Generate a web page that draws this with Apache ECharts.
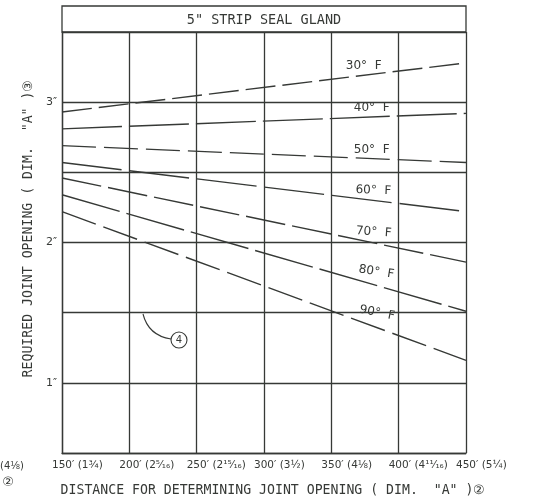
<!DOCTYPE html>
<html>
<head>
<meta charset="utf-8">
<script src="https://cdn.jsdelivr.net/npm/echarts@6/dist/echarts.min.js"></script>
<style>html,body{margin:0;padding:0;background:#fff;}#c{width:541px;height:503px;}</style>
</head>
<body>
<div id="c"></div>
<script>
// Distance (ft) at the two ends of each temperature line
const distances = [150, 450];
const xTickLabels = {150:"150\u2032 (1\u00BE)",200:"200\u2032 (2\u2075\u2044\u2081\u2086)",250:"250\u2032 (2\u00B9\u2075\u2044\u2081\u2086)",300:"300\u2032 (3\u00BD)",350:"350\u2032 (4\u215B)",400:"400\u2032 (4\u00B9\u00B9\u2044\u2081\u2086)",450:"450\u2032 (5\u00BC)"};
const temps = ["30\u00B0", "40\u00B0", "50\u00B0", "60\u00B0", "70\u00B0", "80\u00B0", "90\u00B0"];
// Required joint opening (in) at 150' and 450'
const openAt150 = [2.93, 2.81, 2.69, 2.57, 2.46, 2.34, 2.22];
const openAt450 = [3.28, 2.92, 2.57, 2.22, 1.86, 1.51, 1.16];
const labelDist = [374, 380, 380, 381, 381, 382, 382];
const labelRotate = [0, 0, 0, -2, -4, -9, -11];
const dashes = [[30,7],[60,7],[34,8],[60,8],[40,7],[60,7],[36,8]];

const ink = '#363936';
const font = 'DejaVu Sans';
const mono = 'DejaVu Sans Mono';

const chart = echarts.init(document.getElementById('c'), null, {renderer:'canvas'});
const series = temps.map((t, i) => {
  const a = openAt150[i], b = openAt450[i];
  const d = labelDist[i];
  const lv = a + (b - a) * (d - 150) / 300;
  return {
    type: 'line', name: t, symbol: 'none', silent: true,
    data: [[distances[0], a], [distances[1], b]],
    lineStyle: {color: ink, width: 1.4, type: dashes[i]},
    markPoint: {
      symbol: 'circle', symbolSize: 0, silent: true,
      data: [{coord: [d, lv]}],
      label: {show: true, formatter: t + '  F', color: ink, fontFamily: font, fontSize: 12,
        rotate: labelRotate[i], offset: [0, -9 - Math.abs(labelRotate[i]) * 0.45]}
    }
  };
});

chart.setOption({
  backgroundColor: '#fff',
  animation: false,
  grid: {left: 62, right: 75, top: 32, bottom: 50},
  xAxis: {
    type: 'value', min: 150, max: 450, interval: 50,
    name: 'DISTANCE FOR DETERMINING JOINT OPENING ( DIM.  "A" )\u2461',
    nameLocation: 'middle', nameGap: 31,
    nameTextStyle: {color: ink, fontFamily: mono, fontSize: 13.2, padding: [0, 0, 0, 18]},
    axisLine: {show: true, lineStyle: {color: ink, width: 1.3}},
    axisTick: {show: false},
    splitLine: {show: true, lineStyle: {color: ink, width: 1.3}},
    axisLabel: {color: ink, fontFamily: font, fontSize: 10.5, margin: 7, align: 'left',
      padding: [0, 0, 0, -10], showMinLabel: true, showMaxLabel: true,
      formatter: v => xTickLabels[v] || ''}
  },
  yAxis: {
    type: 'value', min: 0.5, max: 3.5, interval: 0.5,
    name: 'REQUIRED JOINT OPENING ( DIM.  "A" )\u2462',
    nameLocation: 'middle', nameGap: 22, nameRotate: 90,
    nameTextStyle: {color: ink, fontFamily: mono, fontSize: 13.2, padding: [0, 0, 0, 28]},
    axisLine: {show: true, lineStyle: {color: ink, width: 1.3}},
    axisTick: {show: false},
    splitLine: {show: true, lineStyle: {color: ink, width: 1.3}},
    axisLabel: {color: ink, fontFamily: font, fontSize: 11, margin: 5,
      formatter: v => (Math.abs(v - Math.round(v)) < 1e-6 && v >= 1 && v <= 3) ? (Math.round(v) + '\u2033') : ''}
  },
  series: series,
  graphic: [
    {type: 'rect', shape: {x: 62, y: 6, width: 404, height: 26}, style: {fill: 'none', stroke: ink, lineWidth: 1.3}},
    {type: 'text', x: 264, y: 20, style: {text: '5" STRIP SEAL GLAND', fill: ink, font: '13.5px "DejaVu Sans Mono"', textAlign: 'center', textVerticalAlign: 'middle'}},
    {type: 'text', x: 0, y: 466, style: {text: '(4\u215B)', fill: ink, font: '10px "DejaVu Sans"', textAlign: 'left', textVerticalAlign: 'middle'}},
    {type: 'text', x: 8, y: 483, style: {text: '\u2461', fill: ink, font: '13px "DejaVu Sans"', textAlign: 'center', textVerticalAlign: 'middle'}},
    {type: 'bezierCurve', shape: {x1: 143, y1: 314, x2: 171, y2: 339, cpx1: 147, cpy1: 330, cpx2: 158, cpy2: 337}, style: {stroke: ink, lineWidth: 1.1, fill: 'none'}},
    {type: 'circle', shape: {cx: 179, cy: 340, r: 8}, style: {fill: '#fff', stroke: ink, lineWidth: 1.1}},
    {type: 'text', x: 179, y: 340, style: {text: '4', fill: ink, font: '10px "DejaVu Sans"', textAlign: 'center', textVerticalAlign: 'middle'}}
  ]
});
</script>
</body>
</html>
